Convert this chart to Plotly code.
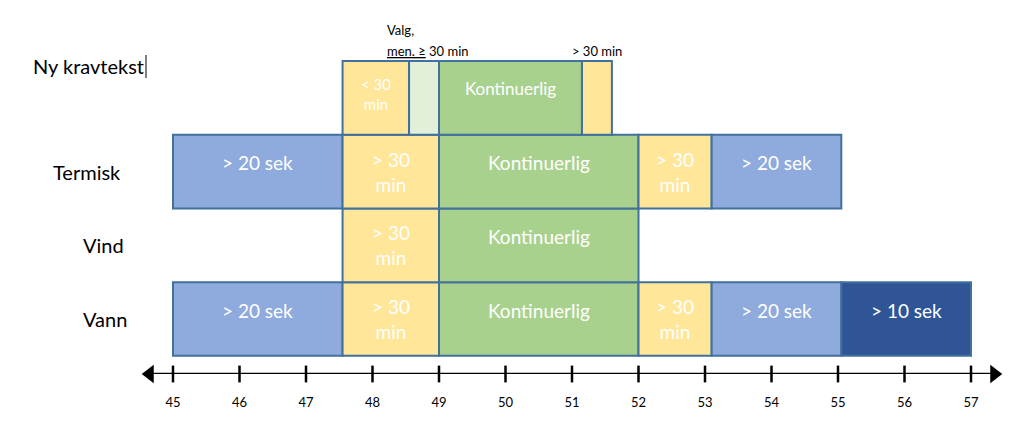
import plotly.graph_objects as go

# ---------------- data ----------------
rows = ["Vann", "Vind", "Termisk", "Ny kravtekst"]

ny_start = [47.55, 48.55, 49.0, 51.15]
ny_end = [48.55, 49.0, 51.15, 51.6]
ny_text = ["< 30<br>min", "", "Kontinuerlig", ""]
ny_kind = ["yellow", "lightgreen", "green", "yellow"]

termisk_start = [45.0, 47.55, 49.0, 52.0, 53.1]
termisk_end = [47.55, 49.0, 52.0, 53.1, 55.05]
termisk_text = ["> 20 sek", "> 30<br>min", "Kontinuerlig", "> 30<br>min", "> 20 sek"]
termisk_kind = ["blue", "yellow", "green", "yellow", "blue"]

vind_start = [47.55, 49.0]
vind_end = [49.0, 52.0]
vind_text = ["> 30<br>min", "Kontinuerlig"]
vind_kind = ["yellow", "green"]

vann_start = [45.0, 47.55, 49.0, 52.0, 53.1, 55.05]
vann_end = [47.55, 49.0, 52.0, 53.1, 55.05, 57.0]
vann_text = ["> 20 sek", "> 30<br>min", "Kontinuerlig", "> 30<br>min", "> 20 sek", "> 10 sek"]
vann_kind = ["blue", "yellow", "green", "yellow", "blue", "darkblue"]

tick_values = [45, 46, 47, 48, 49, 50, 51, 52, 53, 54, 55, 56, 57]
tick_labels = [str(v) for v in tick_values]

note_valg = "Valg,"
note_men = "men. ≥ 30 min"
note_right = "> 30 min"

# ---------------- style ----------------
FONT = "Lato"
COLORS = {
    "yellow": "#FFE699",
    "lightgreen": "#E2F0D9",
    "green": "#A9D18E",
    "blue": "#8FAADC",
    "darkblue": "#2F5597",
}
BORDER = "#41719C"
W, H = 1024, 428
PLOT_H = 374          # plot area height (bottom margin holds tick labels)
PX_PER_UNIT = 66.5    # horizontal scale
X0_PX = 173           # pixel of first tick
ROW_PX = 73.7         # row pitch in pixels
VANN_PX = 319         # centre of lowest row

x_range = [tick_values[0] - X0_PX / PX_PER_UNIT,
           tick_values[0] + (W - X0_PX) / PX_PER_UNIT]
y_low = -(PLOT_H - VANN_PX) / ROW_PX
y_range = [y_low, y_low + PLOT_H / ROW_PX]

def px_x(p):
    return p / W

def px_y(p):
    return 1 - p / PLOT_H

fig = go.Figure()
annotations = []

row_data = [
    (vann_start, vann_end, vann_text, vann_kind, 19),
    (vind_start, vind_end, vind_text, vind_kind, 19),
    (termisk_start, termisk_end, termisk_text, termisk_kind, 19),
    (ny_start, ny_end, ny_text, ny_kind, 15),
]

for ri, (starts, ends, texts, kinds, fsize) in enumerate(row_data):
    widths = [e - s for s, e in zip(starts, ends)]
    fig.add_trace(go.Bar(
        orientation="h",
        y=[ri] * len(starts),
        x=widths,
        base=starts,
        width=1.0,
        marker=dict(color=[COLORS[k] for k in kinds],
                    line=dict(color=BORDER, width=2)),
        hoverinfo="skip",
        showlegend=False,
    ))
    for s, e, t, k in zip(starts, ends, texts, kinds):
        if not t:
            continue
        two = "<br>" in t
        size = fsize
        if ri == 3 and not two:
            size = 17
        if ri == 3 and two:
            size = 15
        annotations.append(dict(
            x=(s + e) / 2, y=ri, xref="x", yref="y",
            text=t, showarrow=False,
            font=dict(family=FONT, size=size, color="white"),
            yshift=(4 if ri == 3 else 0) if two else 9,
        ))

# number line
fig.add_trace(go.Scatter(
    x=[tick_values[0] - 0.4, tick_values[-1] + 0.4],
    y=[y_range[0], y_range[0]],
    mode="lines", line=dict(color="black", width=2.5),
    cliponaxis=False, hoverinfo="skip", showlegend=False,
))
fig.add_trace(go.Scatter(
    x=tick_values, y=[y_range[0]] * len(tick_values),
    mode="markers",
    marker=dict(symbol="line-ns", size=12, line=dict(color="black", width=2.5)),
    cliponaxis=False, hoverinfo="skip", showlegend=False,
))
fig.add_trace(go.Scatter(
    x=[tick_values[0] - 0.35, tick_values[-1] + 0.35],
    y=[y_range[0], y_range[0]],
    mode="markers",
    marker=dict(symbol=["triangle-left", "triangle-right"], size=16, color="black"),
    cliponaxis=False, hoverinfo="skip", showlegend=False,
))

# row labels
row_label_px = {"Vann": 105, "Vind": 103, "Termisk": 87, "Ny kravtekst": 88}
for ri, name in enumerate(rows):
    annotations.append(dict(
        x=px_x(row_label_px[name]), xref="paper", y=ri, yref="y",
        text=name, showarrow=False, xanchor="center",
        font=dict(family=FONT, size=20, color="black"),
        yshift=32 if name == "Ny kravtekst" else 0,
    ))

# notes at top
annotations.append(dict(x=px_x(385), y=px_y(20), xref="paper", yref="paper",
                        text=note_valg, showarrow=False, xanchor="left",
                        font=dict(family=FONT, size=13, color="black")))
men, rest = note_men.split(" ", 1)
annotations.append(dict(
    x=px_x(385), y=px_y(41), xref="paper", yref="paper",
    text='<span style="text-decoration:underline;text-decoration-style:wavy;'
         'text-decoration-color:#3355cc">' + men + " " + rest[0]
         + "</span>" + rest[1:],
    showarrow=False, xanchor="left",
    font=dict(family=FONT, size=13, color="black")))
annotations.append(dict(x=px_x(570), y=px_y(41), xref="paper", yref="paper",
                        text=note_right, showarrow=False, xanchor="left",
                        font=dict(family=FONT, size=13, color="black")))

fig.update_layout(
    width=W, height=H,
    margin=dict(l=0, r=0, t=0, b=H - PLOT_H, pad=0),
    paper_bgcolor="white", plot_bgcolor="white",
    barmode="overlay",
    showlegend=False,
    annotations=annotations,
    shapes=[dict(type="line", xref="paper", yref="paper",
                 x0=px_x(146), x1=px_x(146), y0=px_y(55), y1=px_y(78),
                 line=dict(color="black", width=1))],
    xaxis=dict(range=x_range, showgrid=False, zeroline=False, showline=False,
               tickvals=tick_values, ticktext=tick_labels, ticks="",
               ticklabelstandoff=19,
               tickfont=dict(family=FONT, size=13, color="black"),
               fixedrange=True),
    yaxis=dict(range=y_range, showgrid=False, zeroline=False, showline=False,
               showticklabels=False, ticks="", fixedrange=True),
)

fig.write_html("out.html", config={"displayModeBar": False})
